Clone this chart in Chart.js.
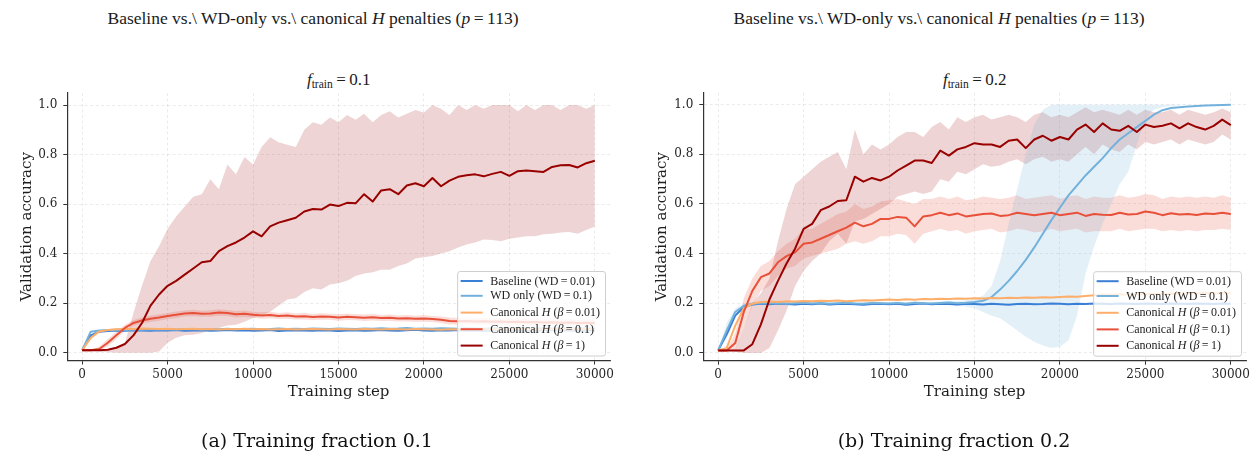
<!DOCTYPE html>
<html><head><meta charset="utf-8">
<script src="https://cdn.jsdelivr.net/npm/chart.js@4.4.1/dist/chart.umd.min.js"></script>
<style>
html,body{margin:0;padding:0;background:#fff}
body{width:1252px;height:451px;position:relative;overflow:hidden}
canvas{position:absolute;top:0}
.sup{position:absolute;top:8px;width:626px;text-align:center;font-family:"Liberation Serif";font-size:17.5px;line-height:20px;color:#1a1a1a;white-space:nowrap}
.sub{position:absolute;top:70px;width:200px;text-align:center;font-family:"Liberation Serif";font-size:17px;line-height:19px;color:#1a1a1a;white-space:nowrap}
.sub sub{font-size:0.68em;vertical-align:-0.3em;line-height:0}
.cap{position:absolute;top:429px;width:400px;text-align:center;font-family:"DejaVu Serif";font-size:19px;line-height:23px;color:#111;white-space:nowrap}
</style></head><body>
<div class="sup" style="left:0">Baseline vs.\ WD-only vs.\ canonical <i>H</i> penalties (<i>p</i>&#8201;=&#8201;113)</div>
<div class="sup" style="left:626px">Baseline vs.\ WD-only vs.\ canonical <i>H</i> penalties (<i>p</i>&#8201;=&#8201;113)</div>
<div class="sub" style="left:238.7px"><i>f</i><sub>train</sub>&#8201;=&#8201;0.1</div>
<div class="sub" style="left:874.7px"><i>f</i><sub>train</sub>&#8201;=&#8201;0.2</div>
<canvas id="ca" width="626" height="451" style="left:0"></canvas>
<canvas id="cb" width="626" height="451" style="left:626px"></canvas>
<div class="cap" style="left:117px">(a) Training fraction 0.1</div>
<div class="cap" style="left:754px">(b) Training fraction 0.2</div>
<script>
const STEPS = [
0,500,1000,1500,2000,2500,3000,3500,4000,4500,
5000,5500,6000,6500,7000,7500,8000,8500,9000,9500,
10000,10500,11000,11500,12000,12500,13000,13500,14000,14500,
15000,15500,16000,16500,17000,17500,18000,18500,19000,19500,
20000,20500,21000,21500,22000,22500,23000,23500,24000,24500,
25000,25500,26000,26500,27000,27500,28000,28500,29000,29500,
30000];

const SERIES_LABELS = ["Baseline (WD=0.01)","WD only (WD=0.1)","Canonical H (β=0.01)","Canonical H (β=0.1)","Canonical H (β=1)"];
const SERIES_COLORS = ["#3a7fd6","#72b1dc","#fdae6b","#e8503a","#990000"];
const X_TICKS = [0, 5000, 10000, 15000, 20000, 25000, 30000];
const Y_TICKS = [0.0, 0.2, 0.4, 0.6, 0.8, 1.0];

// ---------- panel (a): f_train = 0.1 ----------
const A_BASE = [
0.010,0.070,0.085,0.088,0.090,0.089,0.091,0.090,0.089,0.091,
0.090,0.092,0.089,0.090,0.091,0.089,0.090,0.092,0.090,0.091,
0.089,0.090,0.092,0.088,0.090,0.091,0.090,0.089,0.091,0.090,
0.088,0.090,0.091,0.089,0.090,0.092,0.090,0.089,0.091,0.093,
0.090,0.089,0.091,0.090,0.092,0.090,0.091,0.089,0.090,0.092,
0.091,0.090,0.089,0.091,0.090,0.092,0.090,0.091,0.089,0.090,
0.091];
const A_WD = [
0.010,0.085,0.090,0.092,0.093,0.092,0.094,0.093,0.095,0.094,
0.095,0.094,0.096,0.095,0.094,0.096,0.095,0.097,0.095,0.096,
0.097,0.095,0.096,0.098,0.096,0.097,0.096,0.098,0.097,0.096,
0.098,0.097,0.096,0.098,0.097,0.099,0.097,0.098,0.100,0.097,
0.098,0.097,0.099,0.098,0.097,0.099,0.098,0.097,0.099,0.098,
0.097,0.099,0.098,0.097,0.099,0.098,0.097,0.098,0.099,0.098,
0.098];
const A_B001 = [
0.010,0.060,0.086,0.092,0.095,0.097,0.096,0.098,0.097,0.096,
0.097,0.095,0.096,0.097,0.095,0.096,0.094,0.096,0.095,0.097,
0.095,0.096,0.094,0.095,0.096,0.094,0.095,0.096,0.095,0.094,
0.096,0.095,0.094,0.096,0.095,0.094,0.096,0.095,0.094,0.096,
0.095,0.094,0.093,0.095,0.094,0.096,0.095,0.094,0.095,0.094,
0.095,0.096,0.094,0.095,0.094,0.096,0.095,0.094,0.095,0.096,
0.095];
const A_B01 = [
0.010,0.010,0.015,0.040,0.070,0.100,0.120,0.130,0.137,0.142,
0.148,0.153,0.158,0.160,0.157,0.158,0.162,0.160,0.155,0.157,
0.153,0.150,0.152,0.148,0.150,0.146,0.147,0.144,0.146,0.145,
0.142,0.145,0.143,0.141,0.143,0.140,0.141,0.138,0.139,0.137,
0.138,0.136,0.133,0.128,0.127,0.128,0.126,0.127,0.125,0.126,
0.124,0.125,0.123,0.124,0.122,0.123,0.121,0.122,0.120,0.121,
0.120];
const A_B01_HI = [
0.010,0.012,0.025,0.055,0.085,0.113,0.132,0.142,0.150,0.155,
0.160,0.166,0.170,0.173,0.169,0.171,0.175,0.172,0.168,0.170,
0.165,0.163,0.165,0.160,0.163,0.158,0.160,0.156,0.159,0.157,
0.155,0.158,0.155,0.154,0.156,0.152,0.154,0.150,0.152,0.149,
0.151,0.148,0.146,0.142,0.140,0.141,0.139,0.140,0.138,0.139,
0.137,0.138,0.136,0.137,0.135,0.136,0.134,0.135,0.133,0.134,
0.133];
const A_B01_LO = [
0.010,0.008,0.008,0.025,0.055,0.087,0.108,0.118,0.124,0.129,
0.136,0.140,0.146,0.147,0.145,0.145,0.149,0.148,0.142,0.144,
0.141,0.137,0.139,0.136,0.137,0.134,0.134,0.132,0.133,0.133,
0.129,0.132,0.131,0.128,0.130,0.128,0.128,0.126,0.126,0.125,
0.125,0.124,0.120,0.114,0.114,0.115,0.113,0.114,0.112,0.113,
0.111,0.112,0.110,0.111,0.109,0.110,0.108,0.109,0.107,0.108,
0.107];
const A_B1 = [
0.010,0.010,0.010,0.012,0.020,0.035,0.070,0.120,0.190,0.235,
0.270,0.290,0.315,0.340,0.365,0.370,0.410,0.430,0.445,0.465,
0.490,0.470,0.510,0.525,0.535,0.545,0.570,0.580,0.578,0.598,
0.592,0.605,0.603,0.640,0.610,0.655,0.660,0.640,0.675,0.684,
0.672,0.705,0.672,0.695,0.710,0.716,0.720,0.712,0.722,0.730,
0.714,0.733,0.736,0.733,0.730,0.750,0.757,0.758,0.748,0.765,
0.775];
const A_B1_HI = [
0.010,0.010,0.012,0.015,0.020,0.040,0.160,0.270,0.370,0.430,
0.500,0.550,0.590,0.630,0.640,0.700,0.660,0.760,0.720,0.790,
0.760,0.830,0.870,0.850,0.840,0.830,0.900,0.930,0.920,0.950,
0.930,0.960,0.940,0.965,0.930,0.960,0.975,0.950,0.965,0.980,
0.970,1.000,0.985,0.960,1.000,0.980,1.000,0.985,1.000,1.000,
1.000,0.975,1.000,0.980,1.000,1.000,0.980,1.000,1.000,0.985,
1.000];
const A_B1_LO = [
0.010,0.010,0.005,0.002,0.000,0.000,0.000,0.000,0.000,0.005,
0.040,0.060,0.070,0.072,0.080,0.092,0.100,0.110,0.113,0.125,
0.140,0.150,0.165,0.190,0.215,0.220,0.245,0.260,0.255,0.275,
0.280,0.290,0.310,0.320,0.325,0.335,0.335,0.350,0.360,0.380,
0.385,0.390,0.400,0.410,0.425,0.437,0.445,0.457,0.455,0.450,
0.460,0.465,0.470,0.470,0.478,0.480,0.485,0.487,0.480,0.495,
0.510];

// ---------- panel (b): f_train = 0.2 ----------
const B_BASE = [
0.010,0.075,0.150,0.185,0.195,0.198,0.196,0.199,0.197,0.195,
0.198,0.196,0.199,0.195,0.197,0.198,0.196,0.194,0.197,0.198,
0.196,0.198,0.194,0.197,0.199,0.196,0.198,0.197,0.195,0.198,
0.197,0.195,0.198,0.196,0.194,0.197,0.198,0.196,0.197,0.199,
0.198,0.196,0.198,0.197,0.199,0.198,0.197,0.199,0.198,0.197,
0.199,0.198,0.197,0.199,0.198,0.197,0.199,0.198,0.197,0.199,
0.198];
const B_WD = [
0.010,0.090,0.165,0.190,0.198,0.200,0.199,0.201,0.198,0.200,
0.202,0.199,0.201,0.198,0.200,0.202,0.199,0.198,0.201,0.200,
0.199,0.201,0.198,0.202,0.200,0.199,0.201,0.203,0.200,0.202,
0.205,0.210,0.225,0.255,0.290,0.330,0.375,0.425,0.480,0.535,
0.585,0.635,0.675,0.715,0.750,0.785,0.825,0.860,0.885,0.910,
0.935,0.960,0.978,0.987,0.990,0.993,0.995,0.997,0.998,0.999,
1.000];
const B_WD_HI = [
0.010,0.120,0.180,0.197,0.204,0.206,0.205,0.207,0.204,0.206,
0.208,0.205,0.207,0.204,0.206,0.208,0.205,0.204,0.207,0.206,
0.205,0.207,0.204,0.208,0.206,0.205,0.207,0.210,0.208,0.212,
0.218,0.230,0.270,0.370,0.520,0.660,0.800,0.920,0.980,1.000,
1.000,1.000,1.000,1.000,1.000,1.000,1.000,1.000,1.000,1.000,
1.000,1.000,1.000,1.000,1.000,1.000,1.000,1.000,1.000,1.000,
1.000];
const B_WD_LO = [
0.010,0.060,0.150,0.183,0.192,0.194,0.193,0.195,0.192,0.194,
0.196,0.193,0.195,0.192,0.194,0.196,0.193,0.192,0.195,0.194,
0.193,0.195,0.192,0.196,0.194,0.193,0.195,0.194,0.190,0.186,
0.180,0.165,0.150,0.140,0.115,0.090,0.065,0.045,0.030,0.020,
0.025,0.050,0.150,0.320,0.430,0.520,0.600,0.680,0.730,0.840,
0.940,0.980,0.990,0.995,0.998,1.000,1.000,1.000,1.000,1.000,
1.000];
const B_B001 = [
0.010,0.020,0.110,0.180,0.198,0.205,0.207,0.205,0.208,0.207,
0.209,0.208,0.210,0.209,0.211,0.208,0.210,0.212,0.211,0.213,
0.215,0.213,0.216,0.214,0.217,0.216,0.218,0.217,0.219,0.218,
0.220,0.219,0.221,0.220,0.222,0.221,0.223,0.222,0.224,0.223,
0.225,0.227,0.226,0.229,0.232,0.235,0.234,0.236,0.235,0.237,
0.236,0.238,0.237,0.239,0.238,0.240,0.239,0.241,0.240,0.241,
0.240];
const B_B01 = [
0.010,0.010,0.040,0.165,0.250,0.305,0.320,0.365,0.390,0.405,
0.440,0.445,0.460,0.475,0.490,0.505,0.525,0.510,0.520,0.540,
0.540,0.548,0.545,0.510,0.550,0.555,0.565,0.555,0.562,0.550,
0.555,0.560,0.562,0.552,0.555,0.565,0.560,0.555,0.560,0.565,
0.555,0.560,0.565,0.552,0.560,0.557,0.556,0.565,0.558,0.560,
0.570,0.565,0.555,0.563,0.558,0.560,0.556,0.562,0.560,0.565,
0.560];
const B_B01_HI = [
0.010,0.012,0.080,0.220,0.300,0.350,0.370,0.410,0.440,0.460,
0.500,0.500,0.520,0.540,0.560,0.570,0.600,0.580,0.590,0.610,
0.615,0.620,0.610,0.600,0.620,0.620,0.630,0.620,0.630,0.615,
0.620,0.630,0.625,0.620,0.625,0.635,0.620,0.625,0.630,0.635,
0.620,0.630,0.635,0.620,0.630,0.625,0.625,0.635,0.625,0.630,
0.640,0.635,0.620,0.630,0.625,0.630,0.625,0.630,0.625,0.635,
0.625];
const B_B01_LO = [
0.010,0.008,0.010,0.100,0.190,0.250,0.270,0.310,0.340,0.350,
0.380,0.390,0.400,0.410,0.420,0.440,0.450,0.440,0.450,0.470,
0.470,0.480,0.475,0.440,0.480,0.490,0.500,0.490,0.495,0.480,
0.490,0.495,0.500,0.485,0.490,0.500,0.495,0.485,0.490,0.500,
0.490,0.495,0.500,0.485,0.490,0.490,0.490,0.500,0.490,0.495,
0.500,0.500,0.490,0.495,0.490,0.495,0.490,0.495,0.495,0.500,
0.495];
const B_B1 = [
0.010,0.010,0.010,0.010,0.035,0.115,0.215,0.290,0.360,0.420,
0.500,0.520,0.575,0.590,0.612,0.615,0.710,0.690,0.705,0.695,
0.710,0.735,0.755,0.775,0.775,0.765,0.815,0.795,0.820,0.830,
0.845,0.840,0.840,0.830,0.855,0.860,0.825,0.860,0.875,0.855,
0.870,0.860,0.900,0.920,0.890,0.925,0.900,0.895,0.915,0.890,
0.920,0.910,0.915,0.925,0.905,0.925,0.910,0.900,0.915,0.940,
0.918];
const B_B1_HI = [
0.010,0.010,0.015,0.100,0.200,0.240,0.300,0.450,0.580,0.680,
0.710,0.740,0.770,0.790,0.810,0.740,0.900,0.800,0.840,0.820,
0.840,0.870,0.890,0.890,0.870,0.910,0.930,0.900,0.950,0.930,
0.950,0.960,0.940,0.950,0.960,0.950,0.930,0.960,0.970,0.950,
0.960,0.950,0.970,0.990,0.970,0.980,0.970,0.960,0.980,0.960,
0.980,0.970,0.970,0.980,0.960,0.980,0.970,0.960,0.970,0.985,
0.970];
const B_B1_LO = [
0.010,0.010,0.005,0.000,0.000,0.000,0.020,0.090,0.170,0.270,
0.330,0.370,0.400,0.450,0.480,0.440,0.530,0.540,0.560,0.580,
0.600,0.630,0.640,0.650,0.640,0.650,0.700,0.690,0.730,0.720,
0.740,0.760,0.750,0.755,0.770,0.780,0.760,0.780,0.790,0.770,
0.780,0.770,0.800,0.830,0.800,0.840,0.820,0.810,0.840,0.820,
0.850,0.840,0.850,0.860,0.840,0.860,0.850,0.840,0.850,0.880,
0.860];

// ---------- drawing ----------
const pts = arr => arr.map((v, i) => ({x: STEPS[i], y: v}));

const BAND_COLORS = {
  b1: 'rgba(153,0,0,0.17)',
  b01: 'rgba(232,80,58,0.2)',
  wd: 'rgba(107,174,214,0.18)'
};

function buildDatasets(means, bands) {
  const ds = [];
  bands.forEach(b => {
    ds.push({label: '', data: pts(b.hi), borderWidth: 0, pointRadius: 0, fill: '+1',
             backgroundColor: b.color, borderColor: 'rgba(0,0,0,0)', order: 100, _band: true});
    ds.push({label: '', data: pts(b.lo), borderWidth: 0, pointRadius: 0, fill: false,
             borderColor: 'rgba(0,0,0,0)', order: 100, _band: true});
  });
  means.forEach((m, k) => {
    ds.push({label: SERIES_LABELS[k], data: pts(m), borderColor: SERIES_COLORS[k],
             backgroundColor: SERIES_COLORS[k], borderWidth: 2, pointRadius: 0, fill: false,
             tension: 0, borderJoinStyle: 'round', order: 5 - k});
  });
  return ds;
}

function drawRich(ctx, text, x, y, size, family) {
  const parts = text.split(/(\bH\b|β|=)/);
  let cx = x;
  const thin = size * 0.2;
  parts.forEach(p => {
    if (!p) return;
    if (p === 'H' || p === 'β') {
      ctx.font = 'italic ' + size + 'px "' + family + '"';
      ctx.fillText(p, cx, y); cx += ctx.measureText(p).width;
    } else if (p === '=') {
      ctx.font = size + 'px "' + family + '"';
      cx += thin; ctx.fillText('=', cx, y); cx += ctx.measureText('=').width + thin;
    } else {
      ctx.font = size + 'px "' + family + '"';
      ctx.fillText(p, cx, y); cx += ctx.measureText(p).width;
    }
  });
  return cx - x;
}

const boxLegend = {
  id: 'boxLegend',
  afterDatasetsDraw(chart, args, opts) {
    const ctx = chart.ctx, ca = chart.chartArea;
    const items = chart.data.datasets.filter(d => !d._band);
    const size = opts.fontSize, fam = opts.family;
    ctx.save();
    ctx.globalAlpha = 0;
    let maxw = 0;
    items.forEach(d => { maxw = Math.max(maxw, drawRich(ctx, d.label, -9999, -9999, size, fam)); });
    ctx.restore();
    const w = opts.textX + maxw + opts.padRight, h = opts.height;
    const x0 = ca.right - opts.inset - w, y0 = ca.bottom - opts.inset - h;
    ctx.save();
    ctx.beginPath();
    if (ctx.roundRect) ctx.roundRect(x0 + 0.5, y0 + 0.5, w, h, 2.5); else ctx.rect(x0 + 0.5, y0 + 0.5, w, h);
    ctx.fillStyle = 'rgba(255,255,255,0.8)';
    ctx.fill();
    ctx.strokeStyle = '#cfcfcf';
    ctx.lineWidth = 1;
    ctx.stroke();
    items.forEach((d, i) => {
      const yy = y0 + opts.rows[i];
      ctx.beginPath();
      ctx.strokeStyle = d.borderColor;
      ctx.lineWidth = 2;
      ctx.moveTo(x0 + 3.5, yy); ctx.lineTo(x0 + 25.5, yy);
      ctx.stroke();
      ctx.fillStyle = '#222';
      ctx.textBaseline = 'middle';
      ctx.textAlign = 'left';
      drawRich(ctx, d.label, x0 + opts.textX, yy + 0.5, size, fam);
    });
    ctx.restore();
  }
};

function makePanel(id, means, bands, geo) {
  const W = 626, H = 451;
  const tickFont = {family: 'DejaVu Serif', size: 12};
  const titleFont = {family: 'DejaVu Serif', size: 15};
  new Chart(document.getElementById(id), {
    type: 'line',
    data: {datasets: buildDatasets(means, bands)},
    options: {
      responsive: false,
      animation: false,
      events: [],
      layout: {padding: {left: 0, top: geo.top, right: W - geo.right, bottom: 0}},
      plugins: {
        legend: {display: false},
        tooltip: {enabled: false},
        filler: {propagate: false, drawTime: 'beforeDatasetsDraw'},
        boxLegend: {fontSize: 12, family: 'Liberation Serif', textX: 33, padRight: 5, height: 84.5,
                    inset: 5, rows: [10, 24.8, 41.6, 58.2, 74.6]}
      },
      scales: {
        x: {
          type: 'linear', min: -870, max: 30890,
          afterBuildTicks: s => { s.ticks = X_TICKS.map(v => ({value: v})); },
          afterFit: s => { s.height = H - geo.bottom; s.paddingLeft = 0; s.paddingRight = 0; s.paddingTop = 0; s.paddingBottom = 0; },
          ticks: {autoSkip: false, maxRotation: 0, minRotation: 0,
                  callback: v => String(v), font: tickFont, color: '#262626', padding: 3},
          grid: {color: 'rgba(0,0,0,0.10)', lineWidth: 0.8, tickColor: '#333', tickLength: 4, tickWidth: 1},
          border: {color: '#333', width: 1.2, dash: [3, 2.5]},
          title: {display: true, text: 'Training step', font: titleFont, color: '#1f1f1f', padding: {top: 0, bottom: 50}}
        },
        y: {
          min: -0.0315, max: 1.0485,
          afterBuildTicks: s => { s.ticks = Y_TICKS.map(v => ({value: v})); },
          afterFit: s => { s.width = geo.left; s.paddingLeft = 0; s.paddingRight = 0; s.paddingTop = 0; s.paddingBottom = 0; },
          ticks: {autoSkip: false,
                  callback: v => Number(v).toFixed(1), font: tickFont, color: '#262626', padding: 6},
          grid: {color: 'rgba(0,0,0,0.10)', lineWidth: 0.8, tickColor: '#333', tickLength: 4, tickWidth: 1},
          border: {color: '#333', width: 1.2, dash: [3, 2.5]},
          title: {display: true, text: 'Validation accuracy', font: titleFont, color: '#1f1f1f', padding: {top: geo.yTitlePad, bottom: 0}}
        }
      }
    },
    plugins: [boxLegend]
  });
}

makePanel('ca',
  [A_BASE, A_WD, A_B001, A_B01, A_B1],
  [{hi: A_B01_HI, lo: A_B01_LO, color: BAND_COLORS.b01},
   {hi: A_B1_HI, lo: A_B1_LO, color: BAND_COLORS.b1}],
  {left: 67.3, right: 610, top: 93, bottom: 360.5, yTitlePad: 18});

makePanel('cb',
  [B_BASE, B_WD, B_B001, B_B01, B_B1],
  [{hi: B_WD_HI, lo: B_WD_LO, color: BAND_COLORS.wd},
   {hi: B_B01_HI, lo: B_B01_LO, color: BAND_COLORS.b01},
   {hi: B_B1_HI, lo: B_B1_LO, color: BAND_COLORS.b1}],
  {left: 77.3, right: 620, top: 92.7, bottom: 360.7, yTitlePad: 27});
</script>
</body></html>
